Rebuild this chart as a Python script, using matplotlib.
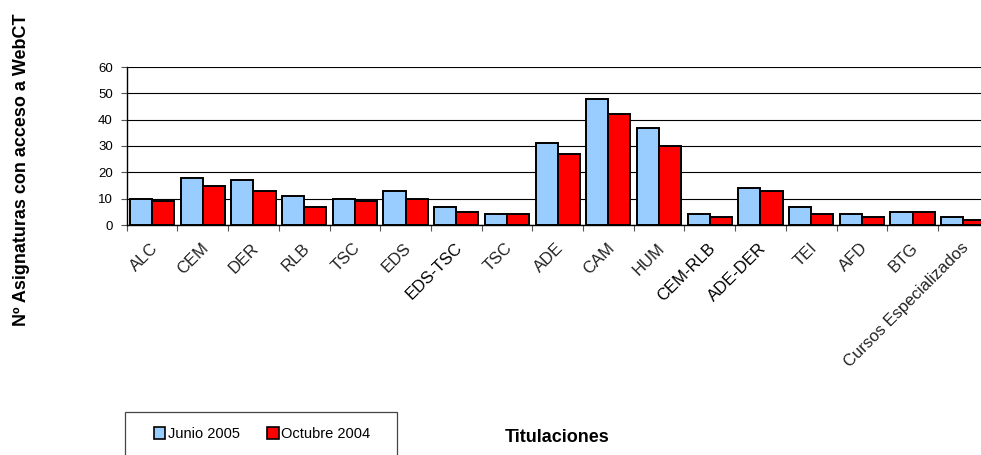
import matplotlib
matplotlib.use("Agg")
import matplotlib.pyplot as plt
import matplotlib.transforms as mtransforms
from matplotlib.patches import Patch, Rectangle
import numpy as np

plt.rcParams['font.family'] = ['Liberation Sans', 'DejaVu Sans']

categories = ["ALC", "CEM", "DER", "RLB", "TSC", "EDS", "EDS-TSC", "TSC", "ADE",
              "CAM", "HUM", "CEM-RLB", "ADE-DER", "TEI", "AFD", "BTG",
              "Cursos Especializados"]
junio_2005 = [10, 18, 17, 11, 10, 13, 7, 4, 31, 48, 37, 4, 14, 7, 4, 5, 3]
octubre_2004 = [9, 15, 13, 7, 9, 10, 5, 4, 27, 42, 30, 3, 13, 4, 3, 5, 2]
series_names = ["Junio 2005", "Octubre 2004"]
yticks = [0, 10, 20, 30, 40, 50, 60]

blue = "#99CCFF"
red = "#FF0000"

W, H = 981, 455
fig = plt.figure(figsize=(W / 100, H / 100), dpi=100)
fig.patch.set_facecolor("white")

left_px, right_px = 126.7, 126.7 + 17 * 50.7
top_px, bot_px = 67, 225
ax = fig.add_axes([left_px / W, 1 - bot_px / H, (right_px - left_px) / W, (bot_px - top_px) / H])

x = np.arange(len(categories))
bw = 0.435
ax.bar(x - bw / 2, junio_2005, width=bw, color=blue, edgecolor="black", linewidth=1.4, zorder=3)
ax.bar(x + bw / 2, octubre_2004, width=bw, color=red, edgecolor="black", linewidth=1.4, zorder=3)

ax.set_xlim(-0.5, len(categories) - 0.5)
ax.set_ylim(0, 60)
ax.set_yticks(yticks)
ax.set_yticklabels([str(v) for v in yticks], fontsize=9.5)
ax.yaxis.grid(True, color="black", linewidth=0.8, zorder=0)
ax.set_axisbelow(True)

for s in ["top", "right"]:
    ax.spines[s].set_visible(False)
ax.spines["left"].set_linewidth(1.0)
ax.spines["bottom"].set_linewidth(1.0)

ax.set_xticks(x)
ax.set_xticks(np.arange(len(categories) + 1) - 0.5, minor=True)
ax.tick_params(axis="x", which="major", length=0, pad=11)
ax.tick_params(axis="x", which="minor", length=4, width=0.8, color="#555555", direction="out")
ax.tick_params(axis="y", length=4, width=0.8, color="#555555", direction="out", pad=6)

labels = ax.set_xticklabels(categories, rotation=45, ha="right", rotation_mode="anchor", fontsize=12)
offset = mtransforms.ScaledTranslation(-2 / 100, 0, fig.dpi_scale_trans)
for lab in labels:
    lab.set_transform(lab.get_transform() + offset)
    lab.set_color("black" if "-" in lab.get_text() else "#222222")

fig.text(22 / W, 1 - 170 / H, "Nº Asignaturas con acceso a WebCT", rotation=90,
         ha="center", va="center", fontsize=13, fontweight="bold")
fig.text(557 / W, 1 - 437 / H, "Titulaciones", ha="center", va="center",
         fontsize=13, fontweight="bold")

fig.patches.append(Rectangle((125 / W, -0.02), 272 / W, 0.02 + (455 - 412) / H,
                             transform=fig.transFigure, fill=False, edgecolor="#444444",
                             linewidth=0.9))
handles = [Patch(facecolor=blue, edgecolor="black", linewidth=1.2),
           Patch(facecolor=red, edgecolor="black", linewidth=1.2)]
fig.legend(handles, series_names, loc="center", bbox_to_anchor=(262 / W, 1 - 434 / H),
           ncol=2, frameon=False, fontsize=10.5, handlelength=0.8, handleheight=0.8,
           handletextpad=0.15, columnspacing=1.9)

fig.savefig("out.png", dpi=100)
